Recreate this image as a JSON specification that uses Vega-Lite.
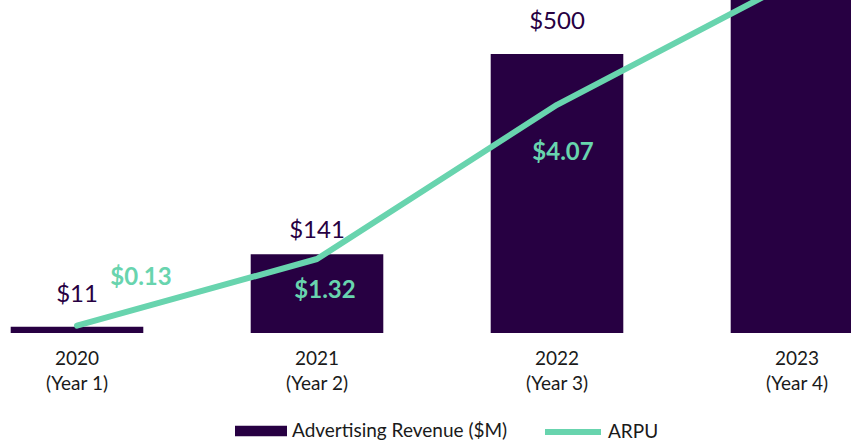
{
  "$schema": "https://vega.github.io/schema/vega-lite/v6.json",
  "width": 851,
  "height": 333,
  "autosize": {"type": "none"},
  "padding": {"left": 0, "top": 0, "right": 0, "bottom": 107},
  "background": "white",
  "config": {
    "view": {"stroke": null},
    "font": "Lato"
  },
  "data": {
    "values": [
      {"label": "2020 (Year 1)", "revenue": 11, "arpu": 0.13},
      {"label": "2021 (Year 2)", "revenue": 141, "arpu": 1.32},
      {"label": "2022 (Year 3)", "revenue": 500, "arpu": 4.07},
      {"label": "2023 (Year 4)", "revenue": 850, "arpu": 6.31}
    ]
  },
  "encoding": {
    "x": {
      "field": "label",
      "type": "nominal",
      "sort": null,
      "scale": {"range": [10.7, 863.3], "paddingInner": 0.4475, "paddingOuter": 0},
      "axis": {
        "title": null,
        "domain": false,
        "ticks": false,
        "labelAngle": 0,
        "labelFont": "Lato",
        "labelFontSize": 19,
        "labelColor": "#1a1a1a",
        "labelLineHeight": 25,
        "labelPadding": 16,
        "labelExpr": "[slice(datum.label, 0, 4), slice(datum.label, 5)]"
      }
    }
  },
  "layer": [
    {
      "mark": {"type": "bar", "clip": false},
      "encoding": {
        "y": {"field": "revenue", "type": "quantitative", "scale": {"domain": [0, 597]}, "axis": null},
        "fill": {
          "datum": "Advertising Revenue ($M)",
          "scale": {"range": ["#270042"]},
          "legend": {
            "orient": "none", "legendX": 235, "legendY": 405, "direction": "horizontal", "title": null,
            "symbolType": "M-1,-0.2H1V0.2H-1Z", "symbolSize": 2704, "symbolStrokeWidth": 0,
            "labelFont": "Lato", "labelFontSize": 19, "labelColor": "#1a1a1a", "labelOffset": 5, "labelLimit": 400
          }
        }
      }
    },
    {
      "transform": [{"filter": "datum.label != '2021 (Year 2)'"}],
      "mark": {"type": "text", "baseline": "alphabetic", "dy": -25, "fontSize": 24, "color": "#270042", "font": "Lato"},
      "encoding": {
        "y": {"field": "revenue", "type": "quantitative", "scale": {"domain": [0, 597]}, "axis": null},
        "text": {"field": "revenue", "format": "$d"}
      }
    },
    {
      "transform": [{"filter": "datum.label == '2021 (Year 2)'"}],
      "mark": {"type": "text", "baseline": "alphabetic", "dy": -16, "fontSize": 24, "color": "#270042", "font": "Lato"},
      "encoding": {
        "y": {"field": "revenue", "type": "quantitative", "scale": {"domain": [0, 597]}, "axis": null},
        "text": {"field": "revenue", "format": "$d"}
      }
    },
    {
      "mark": {"type": "line", "strokeWidth": 6, "strokeCap": "round", "strokeJoin": "round"},
      "encoding": {
        "y": {"field": "arpu", "type": "quantitative", "scale": {"domain": [0, 5.94]}, "axis": null},
        "stroke": {
          "datum": "ARPU",
          "scale": {"range": ["#68d4ae"]},
          "legend": {
            "orient": "none", "legendX": 542, "legendY": 401, "direction": "horizontal", "title": null,
            "symbolType": "stroke", "symbolSize": 3136, "symbolStrokeWidth": 6,
            "labelFont": "Lato", "labelFontSize": 19, "labelColor": "#1a1a1a", "labelOffset": 4, "labelLimit": 200
          }
        }
      }
    },
    {
      "transform": [{"filter": "datum.label == '2020 (Year 1)'"}],
      "mark": {"type": "text", "baseline": "alphabetic", "dx": 64, "dy": -41, "fontSize": 24, "fontWeight": "bold", "color": "#68d4ae", "font": "Lato"},
      "encoding": {
        "y": {"field": "arpu", "type": "quantitative", "scale": {"domain": [0, 5.94]}, "axis": null},
        "text": {"field": "arpu", "format": "$.2f"}
      }
    },
    {
      "transform": [{"filter": "datum.label == '2021 (Year 2)'"}],
      "mark": {"type": "text", "baseline": "alphabetic", "dx": 8, "dy": 39, "fontSize": 24, "fontWeight": "bold", "color": "#68d4ae", "font": "Lato"},
      "encoding": {
        "y": {"field": "arpu", "type": "quantitative", "scale": {"domain": [0, 5.94]}, "axis": null},
        "text": {"field": "arpu", "format": "$.2f"}
      }
    },
    {
      "transform": [{"filter": "datum.label == '2022 (Year 3)'"}],
      "mark": {"type": "text", "baseline": "alphabetic", "dx": 6, "dy": 55, "fontSize": 24, "fontWeight": "bold", "color": "#68d4ae", "font": "Lato"},
      "encoding": {
        "y": {"field": "arpu", "type": "quantitative", "scale": {"domain": [0, 5.94]}, "axis": null},
        "text": {"field": "arpu", "format": "$.2f"}
      }
    }
  ],
  "resolve": {"scale": {"y": "independent"}}
}
